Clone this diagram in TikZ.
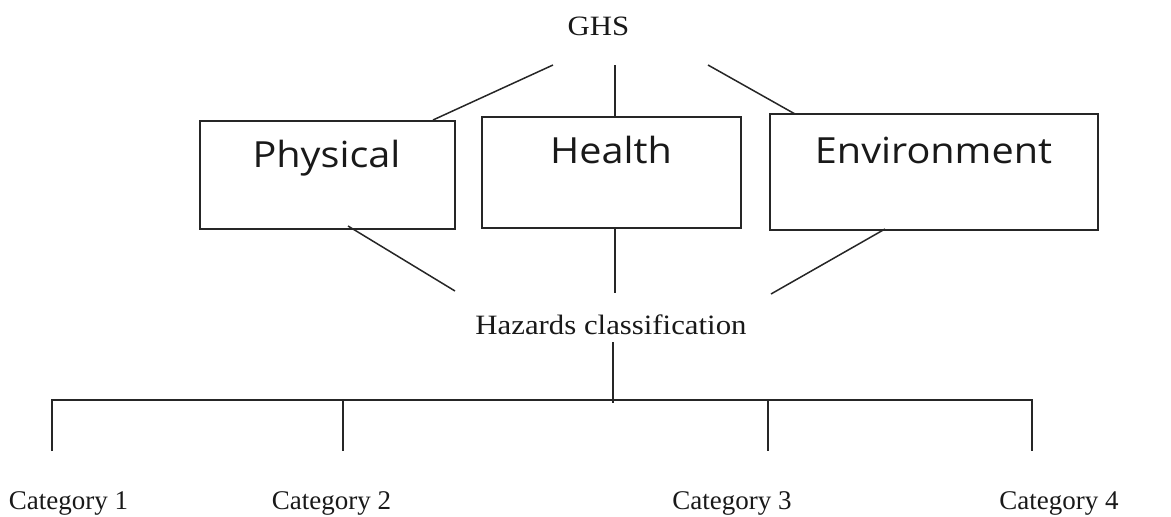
\documentclass[tikz,border=0pt]{standalone}
\usepackage{fontspec}
\setmainfont{Liberation Serif}
\newfontfamily\boxfont[FakeStretch=1.1]{Open Sans}
\newfontfamily\serifwide[FakeStretch=1.1]{Liberation Serif}
\newfontfamily\serifplain{Liberation Serif}
\begin{document}
\begin{tikzpicture}[x=1pt,y=-1pt,
  box/.style={draw=black!85, line width=1.5pt, rectangle, inner sep=0pt},
  boxtext/.style={anchor=base, inner sep=0pt, font=\boxfont\fontsize{36}{40}\selectfont, text=black!90},
  toptext/.style={anchor=base, inner sep=0pt, font=\serifwide\fontsize{28}{32}\selectfont, text=black!90},
  cattext/.style={anchor=base, inner sep=0pt, font=\serifplain\fontsize{27}{31}\selectfont, text=black!90},
  conn/.style={draw=black!85, line width=1.5pt}]
\useasboundingbox (0,0) rectangle (1171,517);

% top and middle labels
\node[toptext] (ghs) at (598.5,35) {GHS};
\node[toptext] (haz) at (611,334) {Hazards classification};

% boxes
\node[box, minimum width=255pt, minimum height=108pt] (phys) at (327.5,175) {};
\node[boxtext] (physt) at (326.5,167) {Physical};
\node[box, minimum width=259pt, minimum height=111pt] (health) at (611.5,172.5) {};
\node[boxtext] (healtht) at (611,163) {Health};
\node[box, minimum width=328pt, minimum height=116pt] (env) at (934,172) {};
\node[boxtext] (envt) at (933.5,163) {Environment};

% category labels
\node[cattext] (c1) at (68.5,509) {Category 1};
\node[cattext] (c2) at (331.5,509) {Category 2};
\node[cattext] (c3) at (732,509) {Category 3};
\node[cattext] (c4) at (1059,509) {Category 4};

% connector end points
\coordinate (g1) at (553,65);
\coordinate (g2) at (615,65);
\coordinate (g3) at (708,65);
\coordinate (p1) at (433,120);
\coordinate (h1) at (615,117);
\coordinate (e1) at (795,114);
\coordinate (p2) at (348,226);
\coordinate (h2) at (615,228);
\coordinate (e2) at (885,229);
\coordinate (z1) at (455,291);
\coordinate (z2) at (615,293);
\coordinate (z3) at (771,294);
\coordinate (hz) at (613,342);
\coordinate (tj) at (613,403);
\coordinate (t1) at (52,400);
\coordinate (t2) at (343,400);
\coordinate (t3) at (768,400);
\coordinate (t4) at (1032,400);
\coordinate (b1) at (52,451);
\coordinate (b2) at (343,451);
\coordinate (b3) at (768,451);
\coordinate (b4) at (1032,451);

% connectors
\draw[conn] (g1) -- (p1);
\draw[conn] (g2) -- (h1);
\draw[conn] (g3) -- (e1);
\draw[conn] (p2) -- (z1);
\draw[conn] (h2) -- (z2);
\draw[conn] (e2) -- (z3);
\draw[conn] (hz) -- (tj);
\draw[conn] (b1) -- (t1) -- (t4) -- (b4);
\draw[conn] (t2) -- (b2);
\draw[conn] (t3) -- (b3);
\end{tikzpicture}
\end{document}
